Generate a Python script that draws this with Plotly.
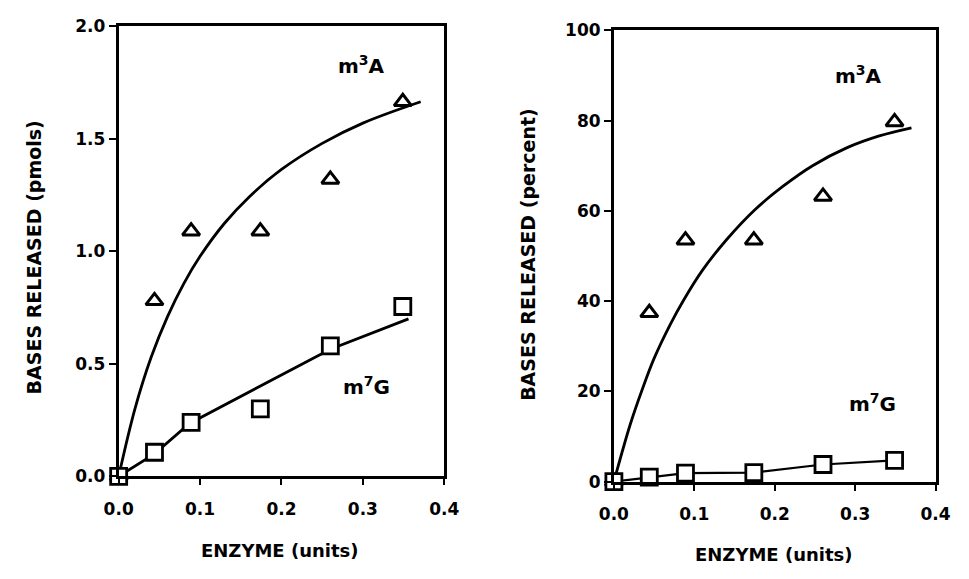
import plotly.graph_objects as go

# Enzyme amounts (units) used in each assay
enzyme = [0.0, 0.044, 0.089, 0.174, 0.26, 0.349]

# Bases released, pmols
m3A_pmol = [0.0, 0.78, 1.09, 1.09, 1.32, 1.665]
m7G_pmol = [0.0, 0.107, 0.24, 0.30, 0.58, 0.755]

# Bases released, percent of total
m3A_pct = [0.0, 37.4, 53.5, 53.5, 63.2, 79.7]
m7G_pct = [0.0, 1.0, 1.9, 2.0, 3.8, 4.7]

# Fitted curves drawn through the data
fit3A_x = [0.0, 0.02, 0.04, 0.06, 0.08, 0.10, 0.13, 0.16, 0.20, 0.25, 0.30, 0.371]
fit3A_pmol = [0.0, 0.30, 0.53, 0.71, 0.857, 0.978, 1.125, 1.241, 1.364, 1.48, 1.57, 1.665]

fit7G_x = [0.0, 0.044, 0.087, 0.26, 0.356]
fit7G_pmol = [0.0, 0.10, 0.235, 0.565, 0.70]

fit3A_pct_x = [0.0, 0.02, 0.035, 0.05, 0.07, 0.087, 0.11, 0.14, 0.175, 0.21, 0.247, 0.29, 0.33, 0.37]
fit3A_pct = [0.0, 12.5, 20.3, 27.3, 34.8, 40.3, 46.8, 53.6, 60.2, 65.4, 70.0, 74.0, 76.6, 78.4]

x_ticks = [0.0, 0.1, 0.2, 0.3, 0.4]
x_ticktext = ["0.0", "0.1", "0.2", "0.3", "0.4"]

FONT = "DejaVu Sans"
INK = "black"

tri = dict(symbol="triangle-up", size=15, color="white", line=dict(color=INK, width=3))
sq = dict(symbol="square", size=16, color="white", line=dict(color=INK, width=2.8))

fig = go.Figure()

# ---- left panel: pmols ----
fig.add_trace(go.Scatter(x=fit3A_x, y=fit3A_pmol, mode="lines", line=dict(color=INK, width=2.8, shape="spline", smoothing=1.0),
                         xaxis="x", yaxis="y", hoverinfo="skip", cliponaxis=False))
fig.add_trace(go.Scatter(x=fit7G_x, y=fit7G_pmol, mode="lines", line=dict(color=INK, width=2.8),
                         xaxis="x", yaxis="y", hoverinfo="skip", cliponaxis=False))
fig.add_trace(go.Scatter(x=enzyme, y=m3A_pmol, mode="markers", name="m3A", marker=tri,
                         xaxis="x", yaxis="y", cliponaxis=False))
fig.add_trace(go.Scatter(x=enzyme, y=m7G_pmol, mode="markers", name="m7G", marker=sq,
                         xaxis="x", yaxis="y", cliponaxis=False))

# ---- right panel: percent ----
fig.add_trace(go.Scatter(x=fit3A_pct_x, y=fit3A_pct, mode="lines", line=dict(color=INK, width=2.8, shape="spline", smoothing=1.0),
                         xaxis="x2", yaxis="y2", hoverinfo="skip", cliponaxis=False))
fig.add_trace(go.Scatter(x=enzyme, y=m7G_pct, mode="lines", line=dict(color=INK, width=2.2),
                         xaxis="x2", yaxis="y2", hoverinfo="skip", cliponaxis=False))
fig.add_trace(go.Scatter(x=enzyme, y=m3A_pct, mode="markers", name="m3A", marker=tri,
                         xaxis="x2", yaxis="y2", cliponaxis=False))
fig.add_trace(go.Scatter(x=enzyme, y=m7G_pct, mode="markers", name="m7G", marker=sq,
                         xaxis="x2", yaxis="y2", cliponaxis=False))

tickfont = dict(family=FONT, size=17, color=INK, weight="bold")
axis_common = dict(showgrid=False, zeroline=False, showline=True, mirror=True, linecolor=INK, linewidth=2.8,
                   ticks="outside", tickcolor=INK, tickwidth=2.2, tickfont=tickfont, fixedrange=True)

fig.update_layout(
    width=969, height=579,
    margin=dict(l=0, r=0, t=0, b=0),
    paper_bgcolor="white", plot_bgcolor="white",
    showlegend=False,
    xaxis=dict(domain=[0.1104, 0.4572], range=[0, 0.4], tickvals=x_ticks, ticktext=x_ticktext,
               ticklen=6, ticklabelstandoff=9, anchor="y", **axis_common),
    yaxis=dict(domain=[0.1658, 0.9706], range=[0, 2.0], tickvals=[0, 0.5, 1.0, 1.5, 2.0],
               ticktext=["0.0", "0.5", "1.0", "1.5", "2.0"], ticklen=7, anchor="x", **axis_common),
    xaxis2=dict(domain=[0.6378, 0.9804], range=[0, 0.4], tickvals=x_ticks, ticktext=x_ticktext,
                ticklen=6, ticklabelstandoff=9, anchor="y2", **axis_common),
    yaxis2=dict(domain=[0.1563, 0.9637], range=[0, 100], tickvals=[0, 20, 40, 60, 80, 100],
                ticklen=7, anchor="x2", **axis_common),
)

ytitle_font = dict(family=FONT, size=19, color=INK, weight="bold")
xtitle_font = dict(family=FONT, size=18, color=INK, weight="bold")
label_font = dict(family=FONT, size=20, color=INK, weight="bold")

annotations = [
    # axis titles
    dict(text="BASES RELEASED (pmols)", x=20 / 969, y=0.558, xref="paper", yref="paper",
         textangle=-90, showarrow=False, font=ytitle_font, xanchor="center", yanchor="middle"),
    dict(text="BASES RELEASED (percent)", x=530 / 969, y=0.563, xref="paper", yref="paper",
         textangle=-90, showarrow=False, font=ytitle_font, xanchor="center", yanchor="middle"),
    dict(text="ENZYME (units)", x=273 / 969, y=1 - 560 / 579, xref="paper", yref="paper",
         showarrow=False, font=xtitle_font, xanchor="center", yanchor="middle"),
    dict(text="ENZYME (units)", x=783 / 969, y=1 - 564 / 579, xref="paper", yref="paper",
         showarrow=False, font=xtitle_font, xanchor="center", yanchor="middle"),
    # series labels
    dict(text="m<sup>3</sup>A", x=0.2985, y=1.83, xref="x", yref="y", showarrow=False, font=label_font),
    dict(text="m<sup>7</sup>G", x=0.304, y=0.40, xref="x", yref="y", showarrow=False, font=label_font),
    dict(text="m<sup>3</sup>A", x=0.3036, y=90, xref="x2", yref="y2", showarrow=False, font=label_font),
    dict(text="m<sup>7</sup>G", x=0.3217, y=17.4, xref="x2", yref="y2", showarrow=False, font=label_font),
]
fig.update_layout(annotations=annotations)

fig.write_html("out.html")
